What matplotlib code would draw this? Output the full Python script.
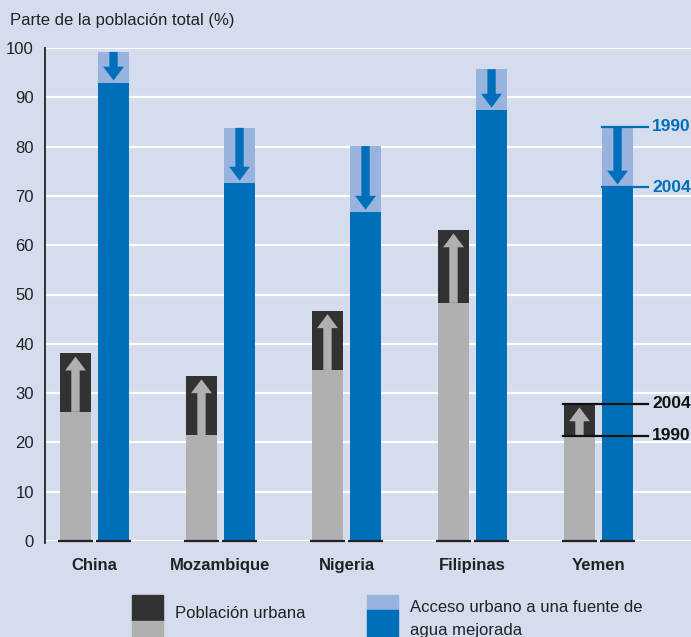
import numpy as np
import matplotlib.pyplot as plt
from matplotlib.patches import Rectangle

plt.rcParams['font.family'] = ['Liberation Sans Narrow', 'Liberation Sans', 'DejaVu Sans']

countries = ["China", "Mozambique", "Nigeria", "Filipinas", "Yemen"]
urban_1990 = [26.2, 21.5, 34.7, 48.3, 21.3]
urban_2004 = [38.1, 33.5, 46.7, 63.1, 27.8]
water_1990 = [99.2, 83.8, 80.1, 95.7, 84.0]
water_2004 = [92.9, 72.6, 66.7, 87.4, 71.8]
yticks = [0, 10, 20, 30, 40, 50, 60, 70, 80, 90, 100]

BG = "#d4dcee"
DARK = "#323232"
GREY = "#b0b0b0"
LBLUE = "#98b3dd"
BLUE = "#006fba"

W = 0.246
OFF = 0.151
ARROW = "simple,head_width=1.5,head_length=1.0,tail_width=0.6"

fig = plt.figure(figsize=(6.91, 6.37), dpi=100, facecolor=BG)
ax = fig.add_axes([45 / 691, 96 / 637, 646 / 691, 493 / 637])
ax.set_facecolor(BG)

x = np.arange(len(countries))
xg = x - OFF
xb = x + OFF

# urban population: 1990 grey + increase to 2004 dark
ax.bar(xg, urban_1990, W, color=GREY, zorder=2)
ax.bar(xg, np.array(urban_2004) - np.array(urban_1990), W, bottom=urban_1990,
       color=DARK, zorder=2)
# water access: 2004 dark blue + drop from 1990 light blue
ax.bar(xb, water_2004, W, color=BLUE, zorder=2)
ax.bar(xb, np.array(water_1990) - np.array(water_2004), W, bottom=water_2004,
       color=LBLUE, zorder=2)

for i in range(len(countries)):
    ax.annotate("", xy=(xg[i], urban_2004[i] - 0.7), xytext=(xg[i], urban_1990[i]),
                arrowprops=dict(arrowstyle=ARROW, color=GREY, lw=0,
                                shrinkA=0, shrinkB=0), zorder=3)
    ax.annotate("", xy=(xb[i], water_2004[i] + 0.5), xytext=(xb[i], water_1990[i]),
                arrowprops=dict(arrowstyle=ARROW, color=BLUE, lw=0,
                                shrinkA=0, shrinkB=0), zorder=3)
    for xx in (xg[i], xb[i]):
        ax.plot([xx - W / 2 - 0.015, xx + W / 2 + 0.015], [0, 0], color="#222222",
                lw=1.6, zorder=4, clip_on=False, solid_capstyle="butt")

# year markers for Yemen
last = len(countries) - 1
px2data = lambda p: (p - 94.5) / 126.0
lx1 = xg[last] - W / 2 - 0.01
lend = px2data(648)
ax.plot([lx1, lend], [urban_2004[last]] * 2, color="#111111", lw=1.6, zorder=5)
ax.plot([lx1, lend], [urban_1990[last]] * 2, color="#111111", lw=1.6, zorder=5)
ax.plot([xb[last] - W / 2, lend], [water_1990[last]] * 2, color=BLUE, lw=1.6, zorder=5)
ax.plot([xb[last] - W / 2, lend], [water_2004[last]] * 2, color=BLUE, lw=1.6, zorder=5)
tx = px2data(652)
ax.text(tx, urban_2004[last], "2004", fontsize=12.5, fontweight="bold", color="#111111",
        va="center", ha="left", clip_on=False)
ax.text(tx, urban_1990[last], "1990", fontsize=12.5, fontweight="bold", color="#111111",
        va="center", ha="left", clip_on=False)
ax.text(tx, water_1990[last], "1990", fontsize=12.5, fontweight="bold", color=BLUE,
        va="center", ha="left", clip_on=False)
ax.text(tx, water_2004[last], "2004", fontsize=12.5, fontweight="bold", color=BLUE,
        va="center", ha="left", clip_on=False)

ax.set_xlim(-0.393, 4.734)
ax.set_ylim(0, 100)
ax.set_yticks(yticks)
ax.set_yticklabels([str(v) for v in yticks], fontsize=12, color="#222222")
ax.yaxis.grid(True, color="white", lw=1.6, zorder=0)
ax.set_axisbelow(True)
ax.tick_params(axis="y", length=0, pad=8)
ax.tick_params(axis="x", length=0, pad=12)
ax.set_xticks(x)
ax.set_xticklabels(countries, fontsize=12, fontweight="bold", color="#222222")
for s in ("top", "right", "bottom"):
    ax.spines[s].set_visible(False)
ax.spines["left"].set_color("#222222")
ax.spines["left"].set_linewidth(1.3)
ax.spines["left"].set_bounds(-0.5, 100)

fig.text(10 / 691, 1 - 20 / 637, "Parte de la población total (%)", fontsize=12,
         color="#222222", va="center", ha="left")

# legend
def fig_rect(x0, y0, w, h, c):
    fig.patches.append(Rectangle((x0 / 691, 1 - (y0 + h) / 637), w / 691, h / 637,
                                 transform=fig.transFigure, color=c, zorder=1))

fig_rect(132, 595, 31, 26, DARK)
fig_rect(132, 621, 31, 20, GREY)
fig.text(175 / 691, 1 - 613 / 637, "Población urbana", fontsize=12, color="#222222",
         va="center", ha="left")
fig_rect(367, 595, 31, 15, LBLUE)
fig_rect(367, 610, 31, 30, BLUE)
fig.text(410 / 691, 1 - 607 / 637, "Acceso urbano a una fuente de", fontsize=12,
         color="#222222", va="center", ha="left")
fig.text(410 / 691, 1 - 631 / 637, "agua mejorada", fontsize=12,
         color="#222222", va="center", ha="left")

fig.savefig("out.png", dpi=100, facecolor=BG)
